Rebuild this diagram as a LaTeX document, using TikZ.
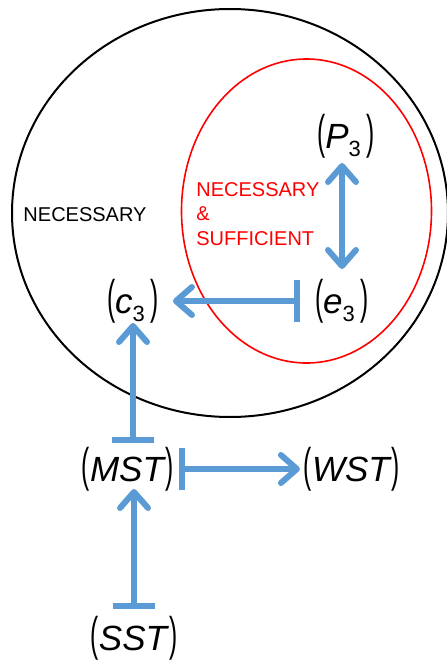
\documentclass[tikz,border=0pt]{standalone}
\usepackage{fontspec}
\setmainfont{Liberation Sans}
\usepackage{graphicx}
\usetikzlibrary{arrows.meta}
\definecolor{arrblue}{RGB}{91,155,213}
\newcommand{\pl}{\scalebox{0.7}[1.35]{(}}
\newcommand{\pr}{\scalebox{0.7}[1.35]{)}}
\newcommand{\lab}[2]{\pl\textit{#1}\raisebox{-4pt}{\fontsize{11}{11}\selectfont #2}\,\pr}
\begin{document}
\begin{tikzpicture}[x=0.5pt,y=-0.5pt,
	lbl/.style={inner sep=0pt,outer sep=0pt,font=\fontsize{17.5}{21}\selectfont},
	act/.style={arrblue,line width=3pt,-{Straight Barb[length=8pt,width=14pt,round]}},
	inh/.style={arrblue,line width=3pt,{Bar[width=21pt]}-{Straight Barb[length=8pt,width=14pt,round]}}]
				\useasboundingbox (0,0) rectangle (446,664);
				\draw[line width=1pt] (230,213) ellipse [x radius=109pt, y radius=102pt];
				\draw[red,line width=0.8pt] (306.5,211) ellipse [x radius=62.5pt, y radius=76pt];
				\node[lbl] (P3) at (346,136) {\lab{P}{3}};
				\node[lbl] (e3) at (342,301) {\lab{e}{3}};
				\node[lbl] (c3) at (133,301) {\lab{c}{3}};
				\node[lbl] (MST) at (128,469) {\pl\textit{MST}\pr};
				\node[lbl] (WST) at (352,469) {\pl\textit{WST}\pr};
				\node[lbl] (SST) at (134,638) {\pl\textit{SST}\pr};
				\node[font=\fontsize{10}{12}\selectfont] (nec) at (85,215) {NECESSARY};
				\node[red,anchor=west,align=left,inner sep=0pt,font=\fontsize{10}{12.25}\selectfont] (nas) at (196,214) {NECESSARY\\\&\\SUFFICIENT};
				\draw[act,{Straight Barb[length=8pt,width=14pt,round]}-{Straight Barb[length=8pt,width=14pt,round]},shorten <=2.5pt,shorten >=5pt] (e3 |- P3.south) -- (e3);
				\draw[inh,shorten <=7.5pt,shorten >=7pt] (e3) -- (c3);
				\draw[inh,shorten <=2pt,shorten >=0pt] (c3 |- MST.north) -- (c3);
				\draw[inh,shorten <=2.5pt,shorten >=2pt] (MST) -- (WST);
				\draw[inh,shorten <=3.5pt,shorten >=-1pt] (SST) -- (SST |- MST.south);
			\end{tikzpicture}
\end{document}
